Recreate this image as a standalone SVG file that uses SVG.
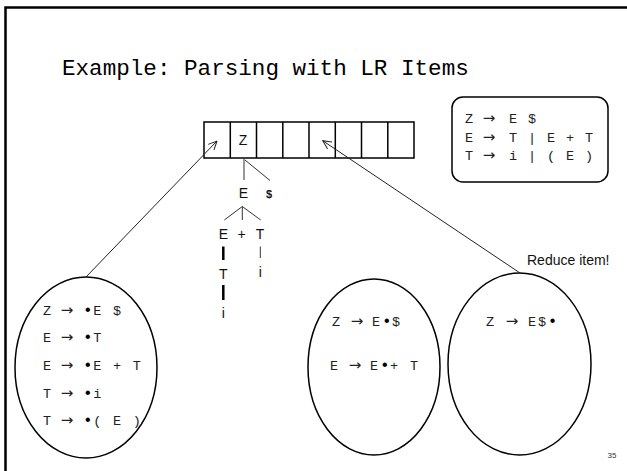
<svg xmlns="http://www.w3.org/2000/svg" width="627" height="471" viewBox="0 0 627 471">
<defs>
<style>
.title{font-family:"Liberation Mono","DejaVu Sans Mono",monospace;font-size:22.6px;fill:#000}
.mono{font-family:"Liberation Mono","DejaVu Sans Mono",monospace;font-size:13.5px;letter-spacing:1.8px;fill:#222}
.g{letter-spacing:1.4px}
.arr{font-family:"DejaVu Sans",sans-serif;font-size:15px;letter-spacing:0}
.dot{font-size:16px;letter-spacing:0.6px;fill:#000}
.sans{font-family:"Liberation Sans",Arial,sans-serif;font-size:14px;fill:#111;text-anchor:middle}
.note{font-family:"Liberation Sans",Arial,sans-serif;font-size:14px;fill:#111}
.shape{fill:none;stroke:#000;stroke-width:1.5}
.thin{fill:none;stroke:#333;stroke-width:1}
.conn{fill:none;stroke:#222;stroke-width:1;marker-end:url(#open)}
</style>
<marker id="open" viewBox="0 0 10 10" refX="9.5" refY="5" markerWidth="9" markerHeight="9" markerUnits="userSpaceOnUse" orient="auto">
<path d="M0,0.5 L9.5,5 L0,9.5" fill="none" stroke="#222" stroke-width="1.1"/>
</marker>
</defs>
<rect width="627" height="471" fill="#fff"/>
<path d="M5.5,471 V7.5 H627" fill="none" stroke="#000" stroke-width="2.5"/>
<text class="title" x="62" y="75">Example: Parsing with LR Items</text>

<g id="tape">
<rect class="shape" x="204" y="122" width="210" height="36"/>
<path class="shape" d="M230.3,122V158 M256.5,122V158 M282.8,122V158 M309,122V158 M335.3,122V158 M361.5,122V158 M387.8,122V158"/>
<text class="sans" x="243" y="145">Z</text>
</g>

<g id="grammar">
<rect class="shape" x="452" y="97" width="156" height="85" rx="11"/>
<text class="mono g" x="465" y="123">Z<tspan class="arr" x="478"> → </tspan><tspan x="509">E $</tspan></text>
<text class="mono g" x="465" y="142">E<tspan class="arr" x="478"> → </tspan><tspan x="509">T | E + T</tspan></text>
<text class="mono g" x="465" y="160">T<tspan class="arr" x="478"> → </tspan><tspan x="509">i | ( E )</tspan></text>
</g>

<g id="tree">
<path class="thin" d="M244,159 V180 M245,160 L270,180.5 M242.3,206.5 L224.3,220 M242.3,206.5 V220 M242.3,206.5 L260.7,220 M260.3,246.5 V258"/>
<path d="M223.3,246.5 V260 M223.3,285 V300" stroke="#000" stroke-width="2.5" fill="none"/>
<text class="sans" x="243.3" y="198">E</text>
<text class="sans" x="269" y="198" style="font-size:11px;font-weight:bold">$</text>
<text class="sans" x="223.3" y="239">E</text>
<text class="sans" x="241.7" y="239">+</text>
<text class="sans" x="260" y="239">T</text>
<text class="sans" x="223.3" y="279">T</text>
<text class="sans" x="260.3" y="277">i</text>
<text class="sans" x="223.3" y="318">i</text>
</g>

<g id="state0">
<ellipse class="shape" cx="86" cy="367.5" rx="71" ry="90.5"/>
<text class="mono" x="43" y="314.5">Z<tspan class="arr" x="56"> → </tspan><tspan class="dot" x="83">•</tspan>E $</text>
<text class="mono" x="43" y="342">E<tspan class="arr" x="56"> → </tspan><tspan class="dot" x="83">•</tspan>T</text>
<text class="mono" x="43" y="370">E<tspan class="arr" x="56"> → </tspan><tspan class="dot" x="83">•</tspan>E + T</text>
<text class="mono" x="43" y="397.5">T<tspan class="arr" x="56"> → </tspan><tspan class="dot" x="83">•</tspan>i</text>
<text class="mono" x="43" y="425">T<tspan class="arr" x="56"> → </tspan><tspan class="dot" x="83">•</tspan>( E )</text>
</g>

<g id="state1">
<ellipse class="shape" cx="374" cy="367" rx="66" ry="88"/>
<text class="mono" x="332" y="326">Z<tspan class="arr" x="346"> → </tspan><tspan x="372">E</tspan><tspan class="dot">•</tspan>$</text>
<text class="mono" x="330" y="370">E<tspan class="arr" x="344"> → </tspan><tspan x="370">E</tspan><tspan class="dot">•</tspan>+ T</text>
</g>

<g id="state2">
<ellipse class="shape" cx="519.5" cy="364" rx="71.5" ry="91"/>
<text class="mono" x="486" y="326">Z<tspan class="arr" x="501"> → </tspan><tspan x="528">E$</tspan><tspan class="dot">•</tspan></text>
<text class="note" x="527" y="265">Reduce item!</text>
</g>

<g id="connectors">
<line class="conn" x1="86" y1="277" x2="217" y2="141"/>
<line class="conn" x1="520" y1="273" x2="322.7" y2="140.7"/>
</g>

<text x="612" y="458" style="font-family:'Liberation Sans',Arial,sans-serif;font-size:8px;fill:#333" text-anchor="middle">35</text>
</svg>
